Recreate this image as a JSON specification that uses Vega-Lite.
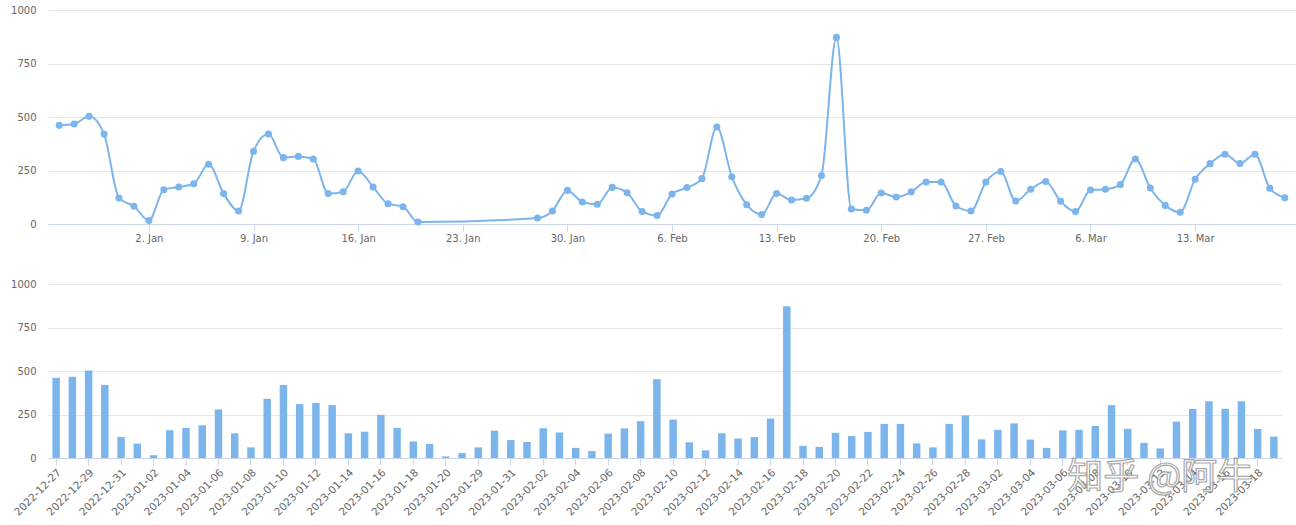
{
  "$schema": "https://vega.github.io/schema/vega-lite/v6.json",
  "padding": {"left": 10, "top": 5, "right": 0, "bottom": 0},
  "background": "#ffffff",
  "config": {
    "view": {"stroke": null},
    "axis": {
      "labelFont": "DejaVu Sans",
      "labelFontSize": 10,
      "labelColor": "#666666",
      "domainColor": "#ccd6eb",
      "tickColor": "#ccd6eb",
      "gridColor": "#e6e6e6",
      "title": null
    }
  },
  "datasets": {
    "daily": [
      {"date": "2022-12-27", "n": 461}, {"date": "2022-12-28", "n": 467}, {"date": "2022-12-29", "n": 503},
      {"date": "2022-12-30", "n": 420}, {"date": "2022-12-31", "n": 121}, {"date": "2023-01-01", "n": 83},
      {"date": "2023-01-02", "n": 16}, {"date": "2023-01-03", "n": 160}, {"date": "2023-01-04", "n": 173},
      {"date": "2023-01-05", "n": 188}, {"date": "2023-01-06", "n": 279}, {"date": "2023-01-07", "n": 142},
      {"date": "2023-01-08", "n": 61}, {"date": "2023-01-09", "n": 340}, {"date": "2023-01-10", "n": 420},
      {"date": "2023-01-11", "n": 310}, {"date": "2023-01-12", "n": 316}, {"date": "2023-01-13", "n": 304},
      {"date": "2023-01-14", "n": 142}, {"date": "2023-01-15", "n": 151}, {"date": "2023-01-16", "n": 248},
      {"date": "2023-01-17", "n": 173}, {"date": "2023-01-18", "n": 95}, {"date": "2023-01-19", "n": 81},
      {"date": "2023-01-20", "n": 9},
      {"date": "2023-01-28", "n": 28}, {"date": "2023-01-29", "n": 61}, {"date": "2023-01-30", "n": 157},
      {"date": "2023-01-31", "n": 103}, {"date": "2023-02-01", "n": 92}, {"date": "2023-02-02", "n": 171},
      {"date": "2023-02-03", "n": 146}, {"date": "2023-02-04", "n": 58}, {"date": "2023-02-05", "n": 40},
      {"date": "2023-02-06", "n": 140}, {"date": "2023-02-07", "n": 170}, {"date": "2023-02-08", "n": 212},
      {"date": "2023-02-09", "n": 453}, {"date": "2023-02-10", "n": 221}, {"date": "2023-02-11", "n": 90},
      {"date": "2023-02-12", "n": 44}, {"date": "2023-02-13", "n": 142}, {"date": "2023-02-14", "n": 112},
      {"date": "2023-02-15", "n": 120}, {"date": "2023-02-16", "n": 227}, {"date": "2023-02-17", "n": 872},
      {"date": "2023-02-18", "n": 70}, {"date": "2023-02-19", "n": 64}, {"date": "2023-02-20", "n": 145},
      {"date": "2023-02-21", "n": 126}, {"date": "2023-02-22", "n": 150}, {"date": "2023-02-23", "n": 196},
      {"date": "2023-02-24", "n": 196}, {"date": "2023-02-25", "n": 84}, {"date": "2023-02-26", "n": 61},
      {"date": "2023-02-27", "n": 196}, {"date": "2023-02-28", "n": 245}, {"date": "2023-03-01", "n": 107},
      {"date": "2023-03-02", "n": 162}, {"date": "2023-03-03", "n": 199}, {"date": "2023-03-04", "n": 106},
      {"date": "2023-03-05", "n": 58}, {"date": "2023-03-06", "n": 159}, {"date": "2023-03-07", "n": 162},
      {"date": "2023-03-08", "n": 184}, {"date": "2023-03-09", "n": 304}, {"date": "2023-03-10", "n": 168},
      {"date": "2023-03-11", "n": 87}, {"date": "2023-03-12", "n": 55}, {"date": "2023-03-13", "n": 209},
      {"date": "2023-03-14", "n": 282}, {"date": "2023-03-15", "n": 326}, {"date": "2023-03-16", "n": 283},
      {"date": "2023-03-17", "n": 326}, {"date": "2023-03-18", "n": 167}, {"date": "2023-03-19", "n": 123}
    ]
  },
  "data": {"name": "daily"},
  "spacing": 36,
  "vconcat": [
    {
      "width": 1248,
      "height": 214,
      "encoding": {
        "x": {
          "field": "date",
          "type": "temporal",
          "scale": {
            "type": "utc",
            "domain": [
              {"year": 2022, "month": 12, "date": 26, "hours": 6, "utc": true},
              {"year": 2023, "month": 3, "date": 19, "hours": 18, "utc": true}
            ]
          },
          "axis": {
            "format": "%-d. %b",
            "grid": false,
            "tickSize": 7,
            "labelPadding": 2,
            "values": [
              {"year": 2023, "month": 1, "date": 2, "utc": true},
              {"year": 2023, "month": 1, "date": 9, "utc": true},
              {"year": 2023, "month": 1, "date": 16, "utc": true},
              {"year": 2023, "month": 1, "date": 23, "utc": true},
              {"year": 2023, "month": 1, "date": 30, "utc": true},
              {"year": 2023, "month": 2, "date": 6, "utc": true},
              {"year": 2023, "month": 2, "date": 13, "utc": true},
              {"year": 2023, "month": 2, "date": 20, "utc": true},
              {"year": 2023, "month": 2, "date": 27, "utc": true},
              {"year": 2023, "month": 3, "date": 6, "utc": true},
              {"year": 2023, "month": 3, "date": 13, "utc": true}
            ]
          }
        },
        "y": {
          "field": "n",
          "type": "quantitative",
          "scale": {"domain": [0, 1000]},
          "axis": {"values": [0, 250, 500, 750, 1000], "format": "d", "domain": false, "ticks": false, "labelPadding": 12, "grid": true}
        }
      },
      "layer": [
        {"mark": {"type": "line", "interpolate": "monotone", "color": "#7cb5ec", "strokeWidth": 2}},
        {"mark": {"type": "point", "filled": true, "size": 50, "color": "#7cb5ec", "opacity": 1}}
      ]
    },
    {
      "width": 1234,
      "height": 174,
      "layer": [
        {
          "mark": {"type": "bar", "color": "#7cb5ec"},
          "encoding": {
            "x": {
              "field": "date",
              "timeUnit": "utcyearmonthdate",
              "type": "ordinal",
              "scale": {"paddingInner": 0.54, "paddingOuter": 0.27},
              "axis": {
                "format": "%Y-%m-%d",
                "labelAngle": -45,
                "labelFontSize": 10.5,
                "labelOverlap": false,
                "labelBound": false,
                "tickSize": 7,
                "labelPadding": 2,
                "values": [
                  {"year": 2022, "month": 12, "date": 27, "utc": true},
                  {"year": 2022, "month": 12, "date": 29, "utc": true},
                  {"year": 2022, "month": 12, "date": 31, "utc": true},
                  {"year": 2023, "month": 1, "date": 2, "utc": true},
                  {"year": 2023, "month": 1, "date": 4, "utc": true},
                  {"year": 2023, "month": 1, "date": 6, "utc": true},
                  {"year": 2023, "month": 1, "date": 8, "utc": true},
                  {"year": 2023, "month": 1, "date": 10, "utc": true},
                  {"year": 2023, "month": 1, "date": 12, "utc": true},
                  {"year": 2023, "month": 1, "date": 14, "utc": true},
                  {"year": 2023, "month": 1, "date": 16, "utc": true},
                  {"year": 2023, "month": 1, "date": 18, "utc": true},
                  {"year": 2023, "month": 1, "date": 20, "utc": true},
                  {"year": 2023, "month": 1, "date": 29, "utc": true},
                  {"year": 2023, "month": 1, "date": 31, "utc": true},
                  {"year": 2023, "month": 2, "date": 2, "utc": true},
                  {"year": 2023, "month": 2, "date": 4, "utc": true},
                  {"year": 2023, "month": 2, "date": 6, "utc": true},
                  {"year": 2023, "month": 2, "date": 8, "utc": true},
                  {"year": 2023, "month": 2, "date": 10, "utc": true},
                  {"year": 2023, "month": 2, "date": 12, "utc": true},
                  {"year": 2023, "month": 2, "date": 14, "utc": true},
                  {"year": 2023, "month": 2, "date": 16, "utc": true},
                  {"year": 2023, "month": 2, "date": 18, "utc": true},
                  {"year": 2023, "month": 2, "date": 20, "utc": true},
                  {"year": 2023, "month": 2, "date": 22, "utc": true},
                  {"year": 2023, "month": 2, "date": 24, "utc": true},
                  {"year": 2023, "month": 2, "date": 26, "utc": true},
                  {"year": 2023, "month": 2, "date": 28, "utc": true},
                  {"year": 2023, "month": 3, "date": 2, "utc": true},
                  {"year": 2023, "month": 3, "date": 4, "utc": true},
                  {"year": 2023, "month": 3, "date": 6, "utc": true},
                  {"year": 2023, "month": 3, "date": 8, "utc": true},
                  {"year": 2023, "month": 3, "date": 10, "utc": true},
                  {"year": 2023, "month": 3, "date": 12, "utc": true},
                  {"year": 2023, "month": 3, "date": 14, "utc": true},
                  {"year": 2023, "month": 3, "date": 16, "utc": true},
                  {"year": 2023, "month": 3, "date": 18, "utc": true}
                ]
              }
            },
            "y": {
              "field": "n",
              "type": "quantitative",
              "scale": {"domain": [0, 1000]},
              "axis": {"values": [0, 250, 500, 750, 1000], "format": "d", "domain": false, "ticks": false, "labelPadding": 12, "grid": true}
            }
          }
        },
        {
          "transform": [
            {"filter": {"field": "date", "timeUnit": "utcyearmonthdate", "equal": {"year": 2023, "month": 3, "date": 12, "utc": true}}}
          ],
          "mark": {"type": "text", "font": "Noto Sans CJK SC", "fontSize": 36, "fill": "#ffffff", "stroke": "#9a9a9a", "strokeWidth": 1.2, "opacity": 0.85, "align": "center", "baseline": "middle"},
          "encoding": {
            "x": {"field": "date", "timeUnit": "utcyearmonthdate", "type": "ordinal"},
            "y": {"datum": -115, "type": "quantitative", "scale": {"domain": [0, 1000]}},
            "text": {"value": "知乎 @阿牛"}
          }
        }
      ]
    }
  ]
}
